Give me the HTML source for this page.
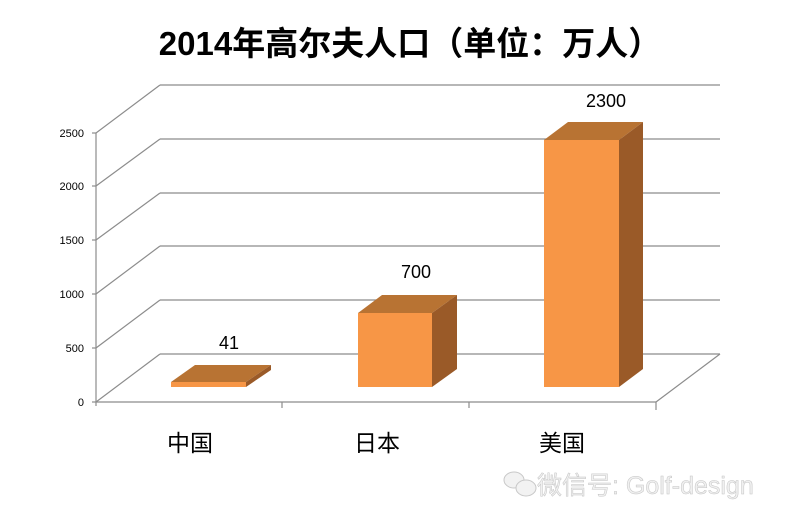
<!DOCTYPE html>
<html><head><meta charset="utf-8"><style>
body{margin:0;background:#fff;}
svg{display:block;}
</style></head><body>
<svg width="797" height="525" viewBox="0 0 797 525" xmlns="http://www.w3.org/2000/svg" font-family="Liberation Sans, Noto Sans CJK SC, sans-serif">
<rect width="797" height="525" fill="#fff"/>
<text x="410" y="55" text-anchor="middle" font-size="33" font-weight="bold" fill="#000">2014年高尔夫人口（单位：万人）</text>
<g stroke="#8c8c8c" stroke-width="1.2" fill="none">
<line x1="160" y1="85" x2="720" y2="85"/>
<line x1="160" y1="139" x2="720" y2="139"/>
<line x1="160" y1="193" x2="720" y2="193"/>
<line x1="160" y1="246" x2="720" y2="246"/>
<line x1="160" y1="300" x2="720" y2="300"/>
<line x1="160" y1="354" x2="720" y2="354"/>
<line x1="96" y1="133" x2="160" y2="85"/>
<line x1="96" y1="186" x2="160" y2="139"/>
<line x1="96" y1="240" x2="160" y2="193"/>
<line x1="96" y1="294" x2="160" y2="246"/>
<line x1="96" y1="348" x2="160" y2="300"/>
<line x1="96" y1="402" x2="160" y2="354"/>
<line x1="96" y1="133" x2="96" y2="406"/>
<line x1="96" y1="402" x2="656" y2="402"/>
<line x1="656" y1="402" x2="720" y2="354"/>
<line x1="282" y1="402" x2="282" y2="408"/>
<line x1="469" y1="402" x2="469" y2="408"/>
<line x1="656" y1="402" x2="656" y2="410"/>
<line x1="92" y1="133" x2="96" y2="133"/><line x1="92" y1="186" x2="96" y2="186"/><line x1="92" y1="240" x2="96" y2="240"/><line x1="92" y1="294" x2="96" y2="294"/><line x1="92" y1="348" x2="96" y2="348"/><line x1="92" y1="402" x2="96" y2="402"/>
</g>
<g font-size="11" fill="#000" text-anchor="end">
<text x="84" y="137">2500</text><text x="84" y="190">2000</text><text x="84" y="244">1500</text><text x="84" y="298">1000</text><text x="84" y="352">500</text><text x="84" y="406">0</text>
</g>
<g>
<polygon points="171,382 195,365 271,365 246,382" fill="#B87333"/>
<polygon points="246,382 271,365 271,370 246,387" fill="#9A5A28"/>
<rect x="171" y="382" width="75" height="5" fill="#F79646"/>
<polygon points="358,313 382,295 457,295 432,313" fill="#B87333"/>
<polygon points="432,313 457,295 457,369 432,387" fill="#9A5A28"/>
<rect x="358" y="313" width="74" height="74" fill="#F79646"/>
<polygon points="544,140 568,122 643,122 619,140" fill="#B87333"/>
<polygon points="619,140 643,122 643,369 619,387" fill="#9A5A28"/>
<rect x="544" y="140" width="75" height="247" fill="#F79646"/>
</g>
<g font-size="18" fill="#000" text-anchor="middle">
<text x="229" y="349">41</text><text x="416" y="278">700</text><text x="606" y="107">2300</text>
</g>
<g font-size="23" fill="#000" text-anchor="middle">
<text x="190" y="451">中国</text><text x="377" y="451">日本</text><text x="562" y="451">美国</text>
</g>
<g fill="#f2f2f2" stroke="#c8c8c8" stroke-width="1">
<ellipse cx="514" cy="480" rx="10" ry="8"/>
<ellipse cx="526" cy="488" rx="10" ry="8"/>
</g>
<text x="537" y="494" font-size="25" fill="#f0f0f0" stroke="#c4c4c4" stroke-width="0.5">微信号: Golf-design</text>
</svg>
</body></html>
